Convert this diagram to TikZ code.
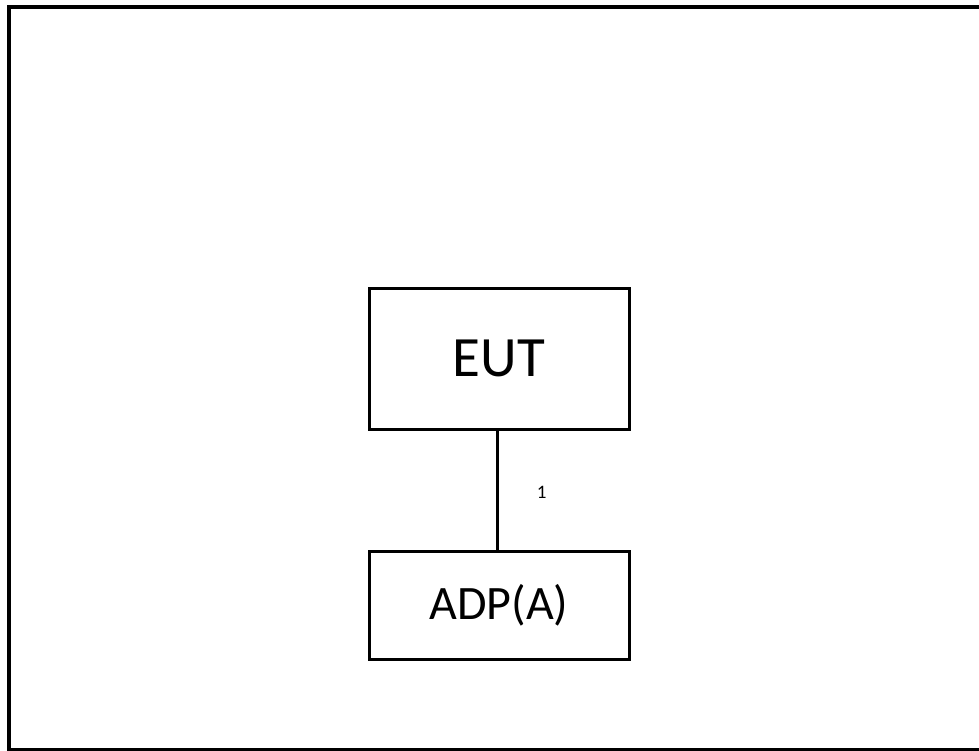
\documentclass[tikz,border=0pt]{standalone}
\usepackage{fontspec}
\setmainfont{Carlito}
\begin{document}
\begin{tikzpicture}[x=1pt,y=-1pt,
  unitbox/.style={draw, line width=3pt, minimum width=260pt, inner sep=0pt, font=\fontsize{48}{56}\selectfont},
  link/.style={line width=3pt}]
\useasboundingbox (0,0) rectangle (979,751);
% outer frame, running past the right edge
\draw[line width=4pt] (9,7) rectangle (1000,749.5);
\node[unitbox, minimum height=141pt, font=\fontsize{57}{64}\selectfont] (eut) at (499,358.5) {EUT};
\node[unitbox, minimum height=108pt] (adp) at (499,605) {ADP(A)};
\draw[link] (eut.south -| 497,0) -- (adp.north -| 497,0) node[pos=0.52, right=35pt, font=\fontsize{19}{22}\selectfont] (lbl) {1};
\end{tikzpicture}
\end{document}
